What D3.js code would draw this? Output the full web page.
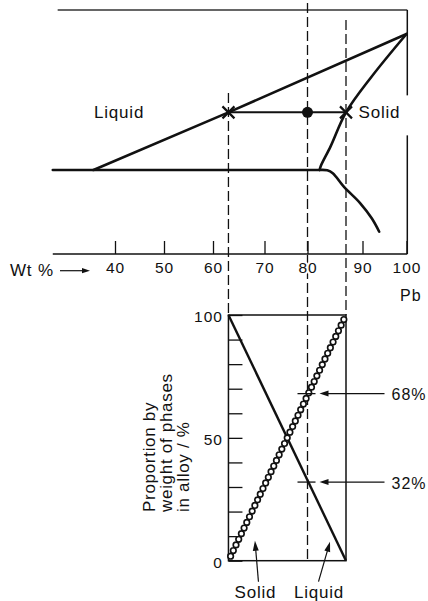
<!DOCTYPE html>
<html><head><meta charset="utf-8">
<script src="https://cdn.jsdelivr.net/npm/d3@7"></script>
<style>
html,body{margin:0;padding:0;background:#fff;}
svg{display:block;}
text{font-family:"Liberation Sans",Arial,Helvetica,sans-serif;fill:#111;}
</style></head><body>
<svg id="c" width="428" height="601"></svg>
<script>
// ---------------- data ----------------
const compTicks = [40, 50, 60, 70, 80, 90, 100];          // wt % Pb tick labels
const liquidus = [[35.6, 183], [63, 244], [100, 327]];     // [wt % Pb, temperature]
const eutecticLine = [[27.3, 183], [82.2, 183]];
const solidus = [[82.2, 183], [82.4, 187], [84.2, 208], [87, 244], [92.1, 282], [100, 327]];
const solvus = [[82.2, 183], [83.6, 182.6], [84.6, 179.5], [86.6, 165.3], [89.6, 147.7], [92.1, 131.8], [93.8, 117.6]];
const tieT = 244;
const alloyComp = 80, liquidComp = 63, solidComp = 87;
const liquidProportion = [[63, 100], [87, 0]];
const solidProportion = [[63, 0], [87, 100]];
const propTicks = [0, 10, 20, 30, 40, 50, 60, 70, 80, 90, 100];
const propLabels = [0, 50, 100];
const readings = [68, 32];
const yTitle = ["Proportion by", "weight of phases", "in alloy / %"];

// ---------------- drawing ----------------
const INK = "#111";
const FONT = "Liberation Sans, Arial, Helvetica, sans-serif";
const svg = d3.select("#c");

const x = d3.scaleLinear().domain(compTicks).range([115, 164, 213, 264.5, 307.5, 362.5, 406.5]);
const yT = d3.scaleLinear().domain([94, 352.4]).range([254, 10]);
const yP = d3.scaleLinear().domain([0, 100]).range([560.7, 315]);

const straight = d3.line().x(d => x(d[0])).y(d => yT(d[1]));
const smooth = d3.line().x(d => x(d[0])).y(d => yT(d[1])).curve(d3.curveCatmullRom.alpha(0.5));
const pLine = d3.line().x(d => x(d[0])).y(d => yP(d[1]));

function seg(x1, y1, x2, y2, w, dash, col) {
  const l = svg.append("line").attr("x1", x1).attr("y1", y1).attr("x2", x2).attr("y2", y2)
    .attr("stroke", col || INK).attr("stroke-width", w);
  if (dash) l.attr("stroke-dasharray", dash);
  return l;
}
function arrow(x1, y1, x2, y2, hl, hw, sw) {
  const a = Math.atan2(y2 - y1, x2 - x1);
  const bx = x2 - hl * Math.cos(a), by = y2 - hl * Math.sin(a);
  seg(x1, y1, bx + 1 * Math.cos(a), by + 1 * Math.sin(a), sw);
  svg.append("path")
    .attr("d", `M${x2},${y2}L${bx - hw * Math.sin(a)},${by + hw * Math.cos(a)}L${bx + hw * Math.sin(a)},${by - hw * Math.cos(a)}Z`)
    .attr("fill", INK);
}
function label(t, px, py, size, anchor, ls) {
  return svg.append("text").attr("x", px).attr("y", py).attr("font-size", size)
    .attr("text-anchor", anchor || "start").attr("letter-spacing", ls == null ? 0.8 : ls).text(t);
}

// --- top frame ---
const topY = yT(352.4), axisY = yT(94), xR = x(100) + 0.8;
seg(x(28.3), topY, xR, topY, 1.3, null, "#333");
seg(xR, topY, xR, yT(tieT) - 17, 1.5);
seg(xR, yT(tieT) + 23, xR, axisY, 1.5);

// --- dashed verticals ---
const dashes = [
  { c: liquidComp, t: 264.6, b: yP(100) },
  { c: alloyComp, t: 359.8, b: yP(0) },
  { c: solidComp, t: 341.8, b: yP(100) }
];
dashes.forEach(d => seg(x(d.c), yT(d.t), x(d.c), d.b, 1.3, "10,4"));

// --- composition axis ---
seg(x(27.3), axisY, xR, axisY, 1.4);
const ax = svg.append("g").attr("transform", `translate(0,${axisY})`)
  .call(d3.axisBottom(x).tickValues(compTicks).tickSizeInner(-13).tickSizeOuter(0).tickPadding(7.5));
ax.select(".domain").remove();
ax.attr("font-family", FONT).attr("font-size", 15.5).attr("color", INK);
ax.selectAll("line").attr("stroke-width", 1.3);
ax.selectAll("text").attr("letter-spacing", 1)
  .attr("stroke", "#fff").attr("stroke-width", 4).attr("paint-order", "stroke");

label("Wt %", 10, 275.5, 17);
arrow(60, 270.7, 90, 270.7, 8, 2.6, 1.2);
label("Pb", 400, 300.5, 16, "start", 1);

// --- phase boundaries ---
[[liquidus, straight], [eutecticLine, straight], [solidus, smooth], [solvus, smooth]].forEach(([d, gen]) => {
  svg.append("path").attr("d", gen(d)).attr("fill", "none").attr("stroke", INK)
    .attr("stroke-width", 2.6).attr("stroke-linejoin", "round").attr("stroke-linecap", "round");
});

// --- tie line ---
const tY = yT(tieT);
seg(x(liquidComp), tY, x(solidComp), tY, 2);
[liquidComp, solidComp].forEach(c => {
  svg.append("path").attr("transform", `translate(${x(c)},${tY})`)
    .attr("d", "M-6,-6L6,6M-6,6L6,-6").attr("stroke", INK).attr("stroke-width", 2.2).attr("fill", "none");
});
svg.append("circle").attr("cx", x(alloyComp)).attr("cy", tY).attr("r", 5.5).attr("fill", INK);

label("Liquid", 94, tY + 6, 17);
label("Solid", x(solidComp) + 12.5, tY + 6, 17);

// --- proportion box ---
svg.append("rect").attr("x", x(liquidComp)).attr("y", yP(100))
  .attr("width", x(solidComp) - x(liquidComp)).attr("height", yP(0) - yP(100))
  .attr("fill", "none").attr("stroke", INK).attr("stroke-width", 1.5);

const yAx = svg.append("g").attr("transform", `translate(${x(liquidComp)},0)`)
  .call(d3.axisLeft(yP).tickValues(propTicks).tickSizeInner(-14).tickSizeOuter(0).tickPadding(5.5)
    .tickFormat(d => propLabels.includes(d) ? d : ""));
yAx.select(".domain").remove();
yAx.attr("font-family", FONT).attr("font-size", 15.5).attr("color", INK);
yAx.selectAll("line").attr("stroke-width", 1.3);
yAx.selectAll("text").attr("dy", "0.42em").attr("letter-spacing", 1);

// liquid proportion (solid line)
svg.append("path").attr("d", pLine(liquidProportion)).attr("fill", "none")
  .attr("stroke", INK).attr("stroke-width", 2.4);

// solid proportion (line of open circles)
const sp = svg.append("path").attr("d", pLine(solidProportion)).attr("fill", "none");
const len = sp.node().getTotalLength();
const inset = 5, n = Math.round((len - 2 * inset) / 6.3), gap = (len - 2 * inset) / n;
sp.attr("stroke", INK).attr("stroke-width", 7.2).attr("stroke-linecap", "round")
  .attr("stroke-dasharray", `0 ${gap}`).attr("stroke-dashoffset", gap - inset);
svg.append("path").attr("d", pLine(solidProportion)).attr("fill", "none")
  .attr("stroke", "#fff").attr("stroke-width", 3.9).attr("stroke-linecap", "round")
  .attr("stroke-dasharray", `0 ${gap}`).attr("stroke-dashoffset", gap - inset);

// readings
readings.forEach(v => {
  const yy = yP(v), xx = x(alloyComp);
  seg(xx - 10, yy, xx + 8, yy, 1.3);
  arrow(xx + 77, yy, xx + 12, yy, 9, 3, 1.3);
  label(v + "%", xx + 84, yy + 6.5, 16, "start", 1);
});

// phase labels under the box
const bx0 = x(liquidComp), bx1 = x(solidComp), by0 = yP(0);
arrow(bx0 + 30, by0 + 21, bx0 + 26.5, by0 - 20, 10, 3, 1.2);
arrow(bx1 - 27.5, by0 + 21, bx1 - 16, by0 - 19, 10, 3, 1.2);
label("Solid", bx0 + 27, 598, 17, "middle");
label("Liquid", bx1 - 27, 598, 17, "middle");

// y title
const bases = [155, 172, 189];
yTitle.forEach((t, i) => {
  svg.append("text").attr("transform", `translate(${bases[i]},512) rotate(-90)`)
    .attr("font-size", 17).attr("letter-spacing", 0.7).attr("text-anchor", "start").text(t);
});
</script>
</body></html>
